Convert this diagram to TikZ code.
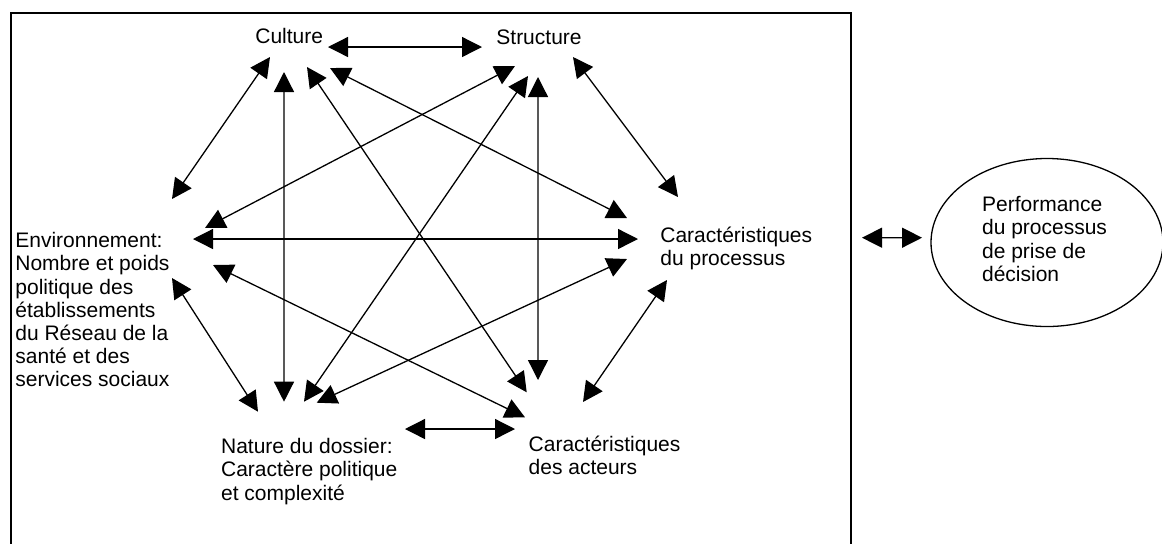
\documentclass[tikz,border=0pt]{standalone}
\usepackage{fontspec}
\setmainfont{Liberation Sans}
\usetikzlibrary{arrows.meta,shapes.geometric}
\begin{document}
\begin{tikzpicture}[x=0.5pt,y=-0.5pt,
  lbl/.style={anchor=north west, inner sep=0pt, align=left,
              font=\fontsize{10.5pt}{11.6pt}\selectfont},
  link/.style={{Triangle[length=10pt,width=10pt]}-{Triangle[length=10pt,width=10pt]},
               line width=0.65pt}]
\useasboundingbox (0,0) rectangle (1162,543);

% outer frame (runs past the lower edge of the page)
\node[draw, line width=1pt, anchor=north west, inner sep=0pt,
      minimum width=420pt, minimum height=272pt] (frame) at (10,12) {};

% the six factors
\node[lbl] (cult)   at (255,28)    {Culture};
\node[lbl] (struct) at (496,29)    {Structure};
\node[lbl] (env)    at (15,232)    {Environnement:\\Nombre et poids\\politique des\\établissements\\du Réseau de la\\santé et des\\services sociaux};
\node[lbl] (proc)   at (660,226.5) {Caractéristiques\\du processus};
\node[lbl] (nat)    at (220.7,438) {Nature du dossier:\\Caractère politique\\et complexité};
\node[lbl] (act)    at (528.3,435.5) {Caractéristiques\\des acteurs};

% outcome
\node[draw, ellipse, line width=0.65pt, inner sep=0pt,
      minimum width=116pt, minimum height=84pt] (perf) at (1047,242.5) {};
\node[lbl] (perftxt) at (981.7,196) {Performance\\du processus\\de prise de\\décision};

% mutual influences between the factors
\draw[link] ([shift={(73,19)}]cult.north west)   -- ([shift={(-14,18)}]struct.north west);
\draw[link] ([shift={(15,29)}]cult.north west)   -- ([shift={(157,-33)}]env.north west);
\draw[link] ([shift={(29,44)}]cult.north west)   -- ([shift={(63.3,-36.3)}]nat.north west);
\draw[link] ([shift={(52,39)}]cult.north west)   -- ([shift={(-1.6,-43.2)}]act.north west);
\draw[link] ([shift={(75,40)}]cult.north west)   -- ([shift={(-33,-8.5)}]proc.north west);
\draw[link] ([shift={(19,37)}]struct.north west) -- ([shift={(190,-4)}]env.north west);
\draw[link] ([shift={(32,47)}]struct.north west) -- ([shift={(83.3,-36.3)}]nat.north west);
\draw[link] ([shift={(42,48)}]struct.north west) -- ([shift={(9.7,-55.5)}]act.north west);
\draw[link] ([shift={(77,28)}]struct.north west) -- ([shift={(18,-29.5)}]proc.north west);
\draw[link] ([shift={(178,7)}]env.north west)    -- ([shift={(-22,12.5)}]proc.north west);
\draw[link] ([shift={(198,33)}]env.north west)   -- ([shift={(-3.3,-18.2)}]act.north west);
\draw[link] ([shift={(157,46)}]env.north west)   -- ([shift={(37.3,-26.3)}]nat.north west);
\draw[link] ([shift={(96,-35.3)}]nat.north west) -- ([shift={(-33,32.5)}]proc.north west);
\draw[link] ([shift={(184.3,-9)}]nat.north west) -- ([shift={(-13.3,-6.5)}]act.north west);
\draw[link] ([shift={(7,53.5)}]proc.north west)  -- ([shift={(54.7,-33.5)}]act.north west);

% link between the factor system and the outcome
\draw[link] ([shift={(10,225.7)}]frame.north east) -- ([shift={(-8.3,-4.8)}]perf.west);
\end{tikzpicture}
\end{document}
